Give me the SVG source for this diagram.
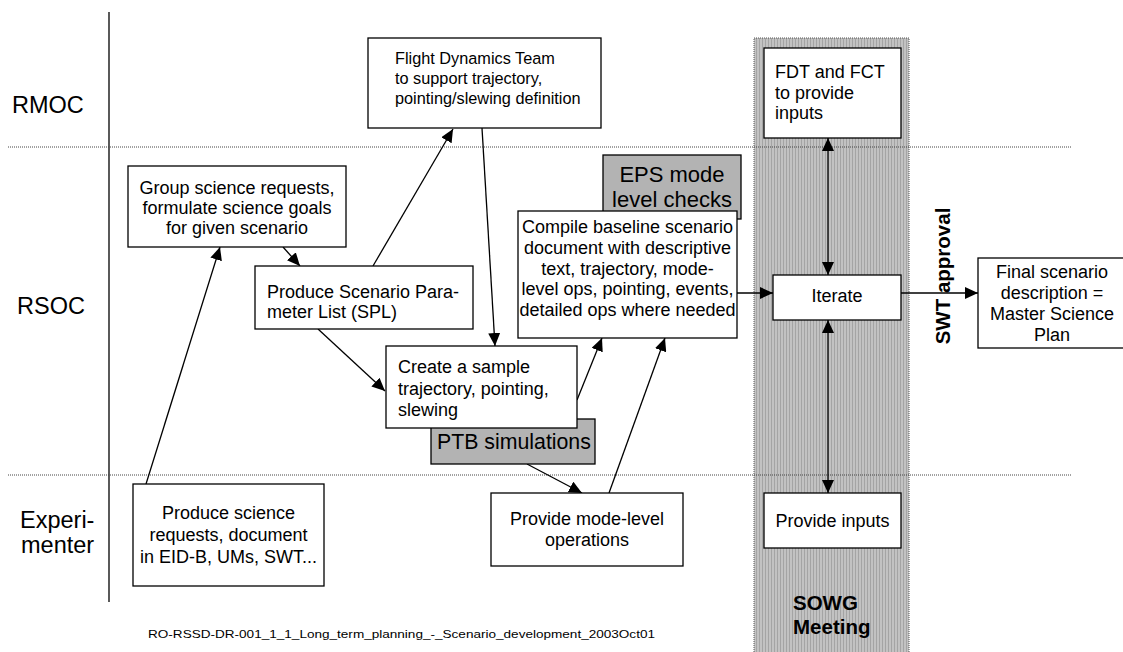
<svg xmlns="http://www.w3.org/2000/svg" width="1123" height="652" viewBox="0 0 1123 652">
  <style>
    text { font-family: "Liberation Sans", Arial, sans-serif; fill: #000; }
    .box { fill: #fff; stroke: #000; stroke-width: 1.3; }
    .shade { fill: #b3b3b3; stroke: #000; stroke-width: 1.3; }
    .lane { font-size: 23.5px; }
    .t18 { font-size: 18px; }
    .t16 { font-size: 16.3px; }
    .big { font-size: 22px; }
    .bold { font-weight: bold; }
    .mid { text-anchor: middle; }
    .sep { stroke: #444; stroke-width: 1; stroke-dasharray: 1 1; fill: none; }
    .conn line { stroke: #000; stroke-width: 1.3; }
  </style>
  <defs>
    <marker id="head" markerUnits="userSpaceOnUse" markerWidth="14" markerHeight="12" viewBox="0 0 14 12" refX="13" refY="6" orient="auto-start-reverse">
      <path d="M0,0 L13,6 L0,12 z" fill="#000"/>
    </marker>
    <pattern id="stripes" width="3" height="4" patternUnits="userSpaceOnUse">
      <rect width="3" height="4" fill="#c2c2c2"/>
      <rect width="1" height="4" fill="#a4a4a4"/>
    </pattern>
  </defs>

  <rect width="1123" height="652" fill="#fff"/>

  <!-- SOWG meeting band -->
  <g id="sowg-band">
    <rect x="754" y="38" width="155" height="620" fill="url(#stripes)" stroke="#555" stroke-width="1" stroke-dasharray="1 1"/>
    <text class="bold" x="793" y="610" font-size="20.5px">SOWG</text>
    <text class="bold" x="793" y="634" font-size="20.5px">Meeting</text>
  </g>

  <!-- swimlane frame -->
  <g id="lanes">
    <line x1="109" y1="12" x2="109" y2="602" stroke="#000" stroke-width="1.3"/>
    <line class="sep" x1="8" y1="147" x2="1072" y2="147"/>
    <line class="sep" x1="8" y1="475" x2="1072" y2="475"/>
    <text class="lane" x="12" y="113">RMOC</text>
    <text class="lane" x="17" y="314">RSOC</text>
    <text class="lane" x="20" y="528">Experi-</text>
    <text class="lane" x="21" y="553">menter</text>
  </g>

  <!-- connectors -->
  <g id="connectors" class="conn">
    <line x1="146" y1="484" x2="220" y2="247" marker-end="url(#head)"/>
    <line x1="283" y1="247" x2="300" y2="266" marker-end="url(#head)"/>
    <line x1="373" y1="266" x2="453" y2="129" marker-end="url(#head)"/>
    <line x1="482" y1="128" x2="495" y2="346" marker-end="url(#head)"/>
    <line x1="318" y1="329" x2="385" y2="391" marker-end="url(#head)"/>
    <line x1="577" y1="400" x2="602" y2="338" marker-end="url(#head)"/>
    <line x1="527" y1="464" x2="582" y2="493" marker-end="url(#head)"/>
    <line x1="609" y1="493" x2="665" y2="338" marker-end="url(#head)"/>
    <line x1="737" y1="293" x2="773" y2="293" marker-end="url(#head)"/>
    <line x1="901" y1="293" x2="978" y2="293" marker-end="url(#head)"/>
    <line x1="828" y1="138" x2="828" y2="275" marker-start="url(#head)" marker-end="url(#head)"/>
    <line x1="828" y1="320" x2="828" y2="493" marker-start="url(#head)" marker-end="url(#head)"/>
  </g>

  <g id="flight-dynamics">
    <rect class="box" x="368" y="38" width="233" height="90"/>
    <text class="t16" x="395" y="64">Flight Dynamics Team</text>
    <text class="t16" x="395" y="84">to support trajectory,</text>
    <text class="t16" x="395" y="104">pointing/slewing definition</text>
  </g>

  <g id="fdt-fct">
    <rect class="box" x="764" y="48" width="137" height="90"/>
    <text class="t18" x="775" y="78">FDT and FCT</text>
    <text class="t18" x="775" y="99">to provide</text>
    <text class="t18" x="775" y="119">inputs</text>
  </g>

  <g id="group-requests">
    <rect class="box" x="128" y="166" width="218" height="81"/>
    <text class="t18 mid" x="237" y="194">Group science requests,</text>
    <text class="t18 mid" x="237" y="214">formulate science goals</text>
    <text class="t18 mid" x="237" y="234">for given scenario</text>
  </g>

  <g id="produce-spl">
    <rect class="box" x="255" y="266" width="218" height="63"/>
    <text class="t18" x="267" y="298">Produce Scenario Para-</text>
    <text class="t18" x="267" y="318">meter List (SPL)</text>
  </g>

  <g id="eps-checks">
    <rect class="shade" x="603" y="155" width="138" height="64"/>
    <text class="big mid" x="672" y="182">EPS mode</text>
    <text class="big mid" x="672" y="207">level checks</text>
  </g>

  <g id="compile-baseline">
    <rect class="box" x="518" y="211" width="219" height="127"/>
    <text class="t18 mid" x="627.5" y="233">Compile baseline scenario</text>
    <text class="t18 mid" x="627.5" y="254">document with descriptive</text>
    <text class="t18 mid" x="627.5" y="275">text, trajectory, mode-</text>
    <text class="t18 mid" x="627.5" y="295">level ops, pointing, events,</text>
    <text class="t18 mid" x="627.5" y="316">detailed ops where needed</text>
  </g>

  <g id="ptb-simulations">
    <rect class="shade" x="431" y="419" width="164" height="45"/>
    <text x="437" y="449" font-size="21.3px">PTB simulations</text>
  </g>

  <g id="sample-trajectory">
    <rect class="box" x="386" y="346" width="191" height="82"/>
    <text class="t18" x="398" y="373">Create a sample</text>
    <text class="t18" x="398" y="395">trajectory, pointing,</text>
    <text class="t18" x="398" y="416">slewing</text>
  </g>

  <g id="iterate">
    <rect class="box" x="773" y="275" width="128" height="45"/>
    <text class="t18 mid" x="837" y="302">Iterate</text>
  </g>

  <g id="provide-inputs">
    <rect class="box" x="764" y="493" width="137" height="55"/>
    <text class="t18 mid" x="832.5" y="527">Provide inputs</text>
  </g>

  <g id="mode-level-ops">
    <rect class="box" x="491" y="493" width="192" height="73"/>
    <text class="t18 mid" x="587" y="525">Provide mode-level</text>
    <text class="t18 mid" x="587" y="546">operations</text>
  </g>

  <g id="science-requests">
    <rect class="box" x="133" y="484" width="191" height="102"/>
    <text class="t18 mid" x="228.5" y="519">Produce science</text>
    <text class="t18 mid" x="228.5" y="541">requests, document</text>
    <text class="t18 mid" x="228.5" y="563">in EID-B, UMs, SWT...</text>
  </g>

  <g id="master-plan">
    <rect class="box" x="978" y="258" width="160" height="90"/>
    <text class="t18 mid" x="1052" y="278">Final scenario</text>
    <text class="t18 mid" x="1052" y="299">description =</text>
    <text class="t18 mid" x="1052" y="320">Master Science</text>
    <text class="t18 mid" x="1052" y="341">Plan</text>
  </g>

  <!-- approval label on the outgoing arrow -->
  <text class="bold mid" font-size="20.5px" transform="translate(950,276) rotate(-90)">SWT approval</text>

  <text x="148" y="638" font-size="11.5px" textLength="507" lengthAdjust="spacingAndGlyphs">RO-RSSD-DR-001_1_1_Long_term_planning_-_Scenario_development_2003Oct01</text>
</svg>
